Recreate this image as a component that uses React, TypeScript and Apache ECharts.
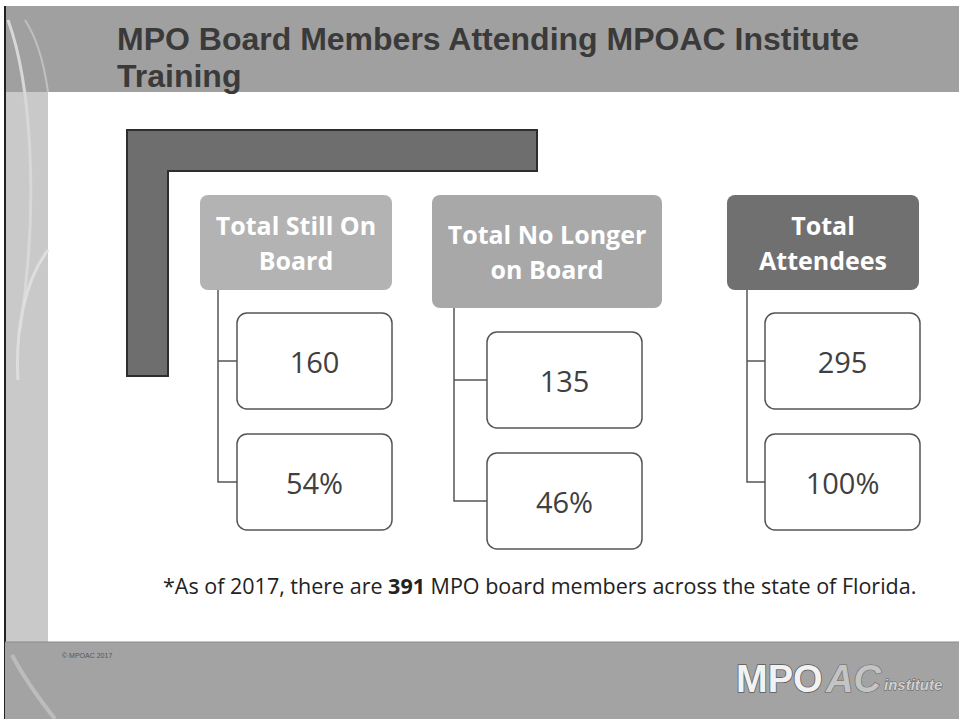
import React, { useEffect, useRef } from "react";
import * as echarts from "echarts";

const titleLines = ["MPO Board Members Attending MPOAC Institute", "Training"];
const headers = ["Total Still On\nBoard", "Total No Longer\non Board", "Total\nAttendees"];
const counts = [160, 135, 295];
const percents = [54, 46, 100];
const footnoteParts = ["*As of 2017, there are ", "391", " MPO board members across the state of Florida."];
const footerSmall = "© MPOAC 2017";

// layout (positions only)
const cols = [
  { hx: 200, hy: 195, hw: 192, hh: 95, hc: "#b3b3b3", lx: 218, bx: 237, by: 313 },
  { hx: 432, hy: 195, hw: 230, hh: 113, hc: "#a8a8a8", lx: 454, bx: 487, by: 332 },
  { hx: 727, hy: 195, hw: 192, hh: 95, hc: "#707070", lx: 747, bx: 765, by: 313 },
];
const BW = 155;
const BH = 96;
const GAP = 121;

export default function App() {
  const ref = useRef<HTMLDivElement>(null);
  useEffect(() => {
    document.body.style.margin = "0";
    const chart = echarts.init(ref.current!, null, { renderer: "svg" });
    const g: any[] = [];
    // background
    g.push({ type: "rect", shape: { x: 0, y: 0, width: 959, height: 719 }, style: { fill: "#ffffff" } });
    // title bar
    g.push({ type: "rect", shape: { x: 5, y: 6, width: 954, height: 86 }, style: { fill: "#a0a0a0" } });
    // left strip
    g.push({ type: "rect", shape: { x: 5, y: 92, width: 43, height: 552 }, style: { fill: "#c9c9c9" } });
    g.push({ type: "line", shape: { x1: 5, y1: 6, x2: 5, y2: 719 }, style: { stroke: "#222", lineWidth: 2 } });
    // decorative curves
    g.push({ type: "bezierCurve", shape: { x1: 8, y1: 20, cpx1: 30, cpy1: 80, cpx2: 40, cpy2: 200, x2: 20, y2: 330 }, style: { stroke: "#d8d8d8", lineWidth: 3, fill: null } });
    g.push({ type: "bezierCurve", shape: { x1: 48, y1: 250, cpx1: 25, cpy1: 280, cpx2: 15, cpy2: 330, x2: 18, y2: 380 }, style: { stroke: "#dedede", lineWidth: 3, fill: null } });
    g.push({ type: "bezierCurve", shape: { x1: 25, y1: 20, cpx1: 38, cpy1: 40, cpx2: 45, cpy2: 70, x2: 48, y2: 92 }, style: { stroke: "#c0c0c0", lineWidth: 2, fill: null } });
    // title text
    titleLines.forEach((t, i) => {
      g.push({
        type: "text", x: 117, y: 39 + i * 37,
        style: { text: t, fill: "#3a3a3a", font: "bold 32px 'Liberation Sans', Arial, sans-serif", textVerticalAlign: "middle" },
      });
    });
    // L bracket
    g.push({
      type: "polygon",
      shape: { points: [[127, 130], [537, 130], [537, 171], [168, 171], [168, 376], [127, 376]] },
      style: { fill: "#6e6e6e", stroke: "#2e2e2e", lineWidth: 2 },
    });
    // columns
    cols.forEach((c, i) => {
      g.push({ type: "rect", shape: { x: c.hx, y: c.hy, width: c.hw, height: c.hh, r: 8 }, style: { fill: c.hc } });
      g.push({
        type: "text", x: c.hx + c.hw / 2, y: c.hy + c.hh / 2,
        style: { text: headers[i], fill: "#ffffff", font: "bold 25px 'Open Sans', sans-serif", align: "center", verticalAlign: "middle", lineHeight: 35 },
      });
      const m1 = c.by + BH / 2;
      const m2 = c.by + GAP + BH / 2;
      g.push({ type: "polyline", shape: { points: [[c.lx, c.hy + c.hh], [c.lx, m2], [c.bx, m2]] }, style: { stroke: "#555", lineWidth: 1.5, fill: null } });
      g.push({ type: "line", shape: { x1: c.lx, y1: m1, x2: c.bx, y2: m1 }, style: { stroke: "#555", lineWidth: 1.5 } });
      const vals = [String(counts[i]), percents[i] + "%"];
      vals.forEach((v, k) => {
        const y = c.by + k * GAP;
        g.push({ type: "rect", shape: { x: c.bx, y, width: BW, height: BH, r: 10 }, style: { fill: "#fff", stroke: "#555", lineWidth: 1.5 } });
        g.push({
          type: "text", x: c.bx + BW / 2, y: y + BH / 2,
          style: { text: v, fill: "#404040", font: "29px 'Open Sans', sans-serif", align: "center", verticalAlign: "middle" },
        });
      });
    });
    // footnote
    g.push({
      type: "text", x: 163, y: 585,
      style: {
        text: `{n|${footnoteParts[0]}}{b|${footnoteParts[1]}}{n|${footnoteParts[2]}}`,
        verticalAlign: "middle",
        rich: {
          n: { fill: "#222", font: "21.5px 'Open Sans', sans-serif" },
          b: { fill: "#222", font: "bold 21.5px 'Open Sans', sans-serif" },
        },
      },
    });
    // footer
    g.push({ type: "rect", shape: { x: 5, y: 642, width: 954, height: 77 }, style: { fill: "#a3a3a3" } });
    g.push({ type: "line", shape: { x1: 5, y1: 642, x2: 959, y2: 642 }, style: { stroke: "#8a8a8a", lineWidth: 1 } });
    g.push({ type: "bezierCurve", shape: { x1: 12, y1: 655, cpx1: 25, cpy1: 680, cpx2: 40, cpy2: 700, x2: 55, y2: 719 }, style: { stroke: "#bcbcbc", lineWidth: 4, fill: null } });
    g.push({ type: "text", x: 62, y: 655, style: { text: footerSmall, fill: "#555", font: "7px 'Liberation Sans', sans-serif", verticalAlign: "middle" } });
    // logo
    g.push({ type: "text", x: 736, y: 679, style: { text: "MPO", fill: "#f2f2f2", stroke: "#5a5a5a", lineWidth: 1.5, font: "bold 38px 'Liberation Sans', Arial, sans-serif", verticalAlign: "middle" } });
    g.push({ type: "text", x: 826, y: 679, style: { text: "AC", fill: "#c4c4c4", stroke: "#6a6a6a", lineWidth: 1.2, font: "italic bold 38px 'Liberation Sans', Arial, sans-serif", verticalAlign: "middle" } });
    g.push({ type: "text", x: 884, y: 684, style: { text: "institute", fill: "#d0d0d0", stroke: "#5a5a5a", lineWidth: 0.8, font: "italic bold 15px 'Liberation Sans', Arial, sans-serif", verticalAlign: "middle" } });

    chart.setOption({ animation: false, graphic: { elements: g } });
    return () => chart.dispose();
  }, []);
  return <div ref={ref} style={{ width: 959, height: 719 }} />;
}
